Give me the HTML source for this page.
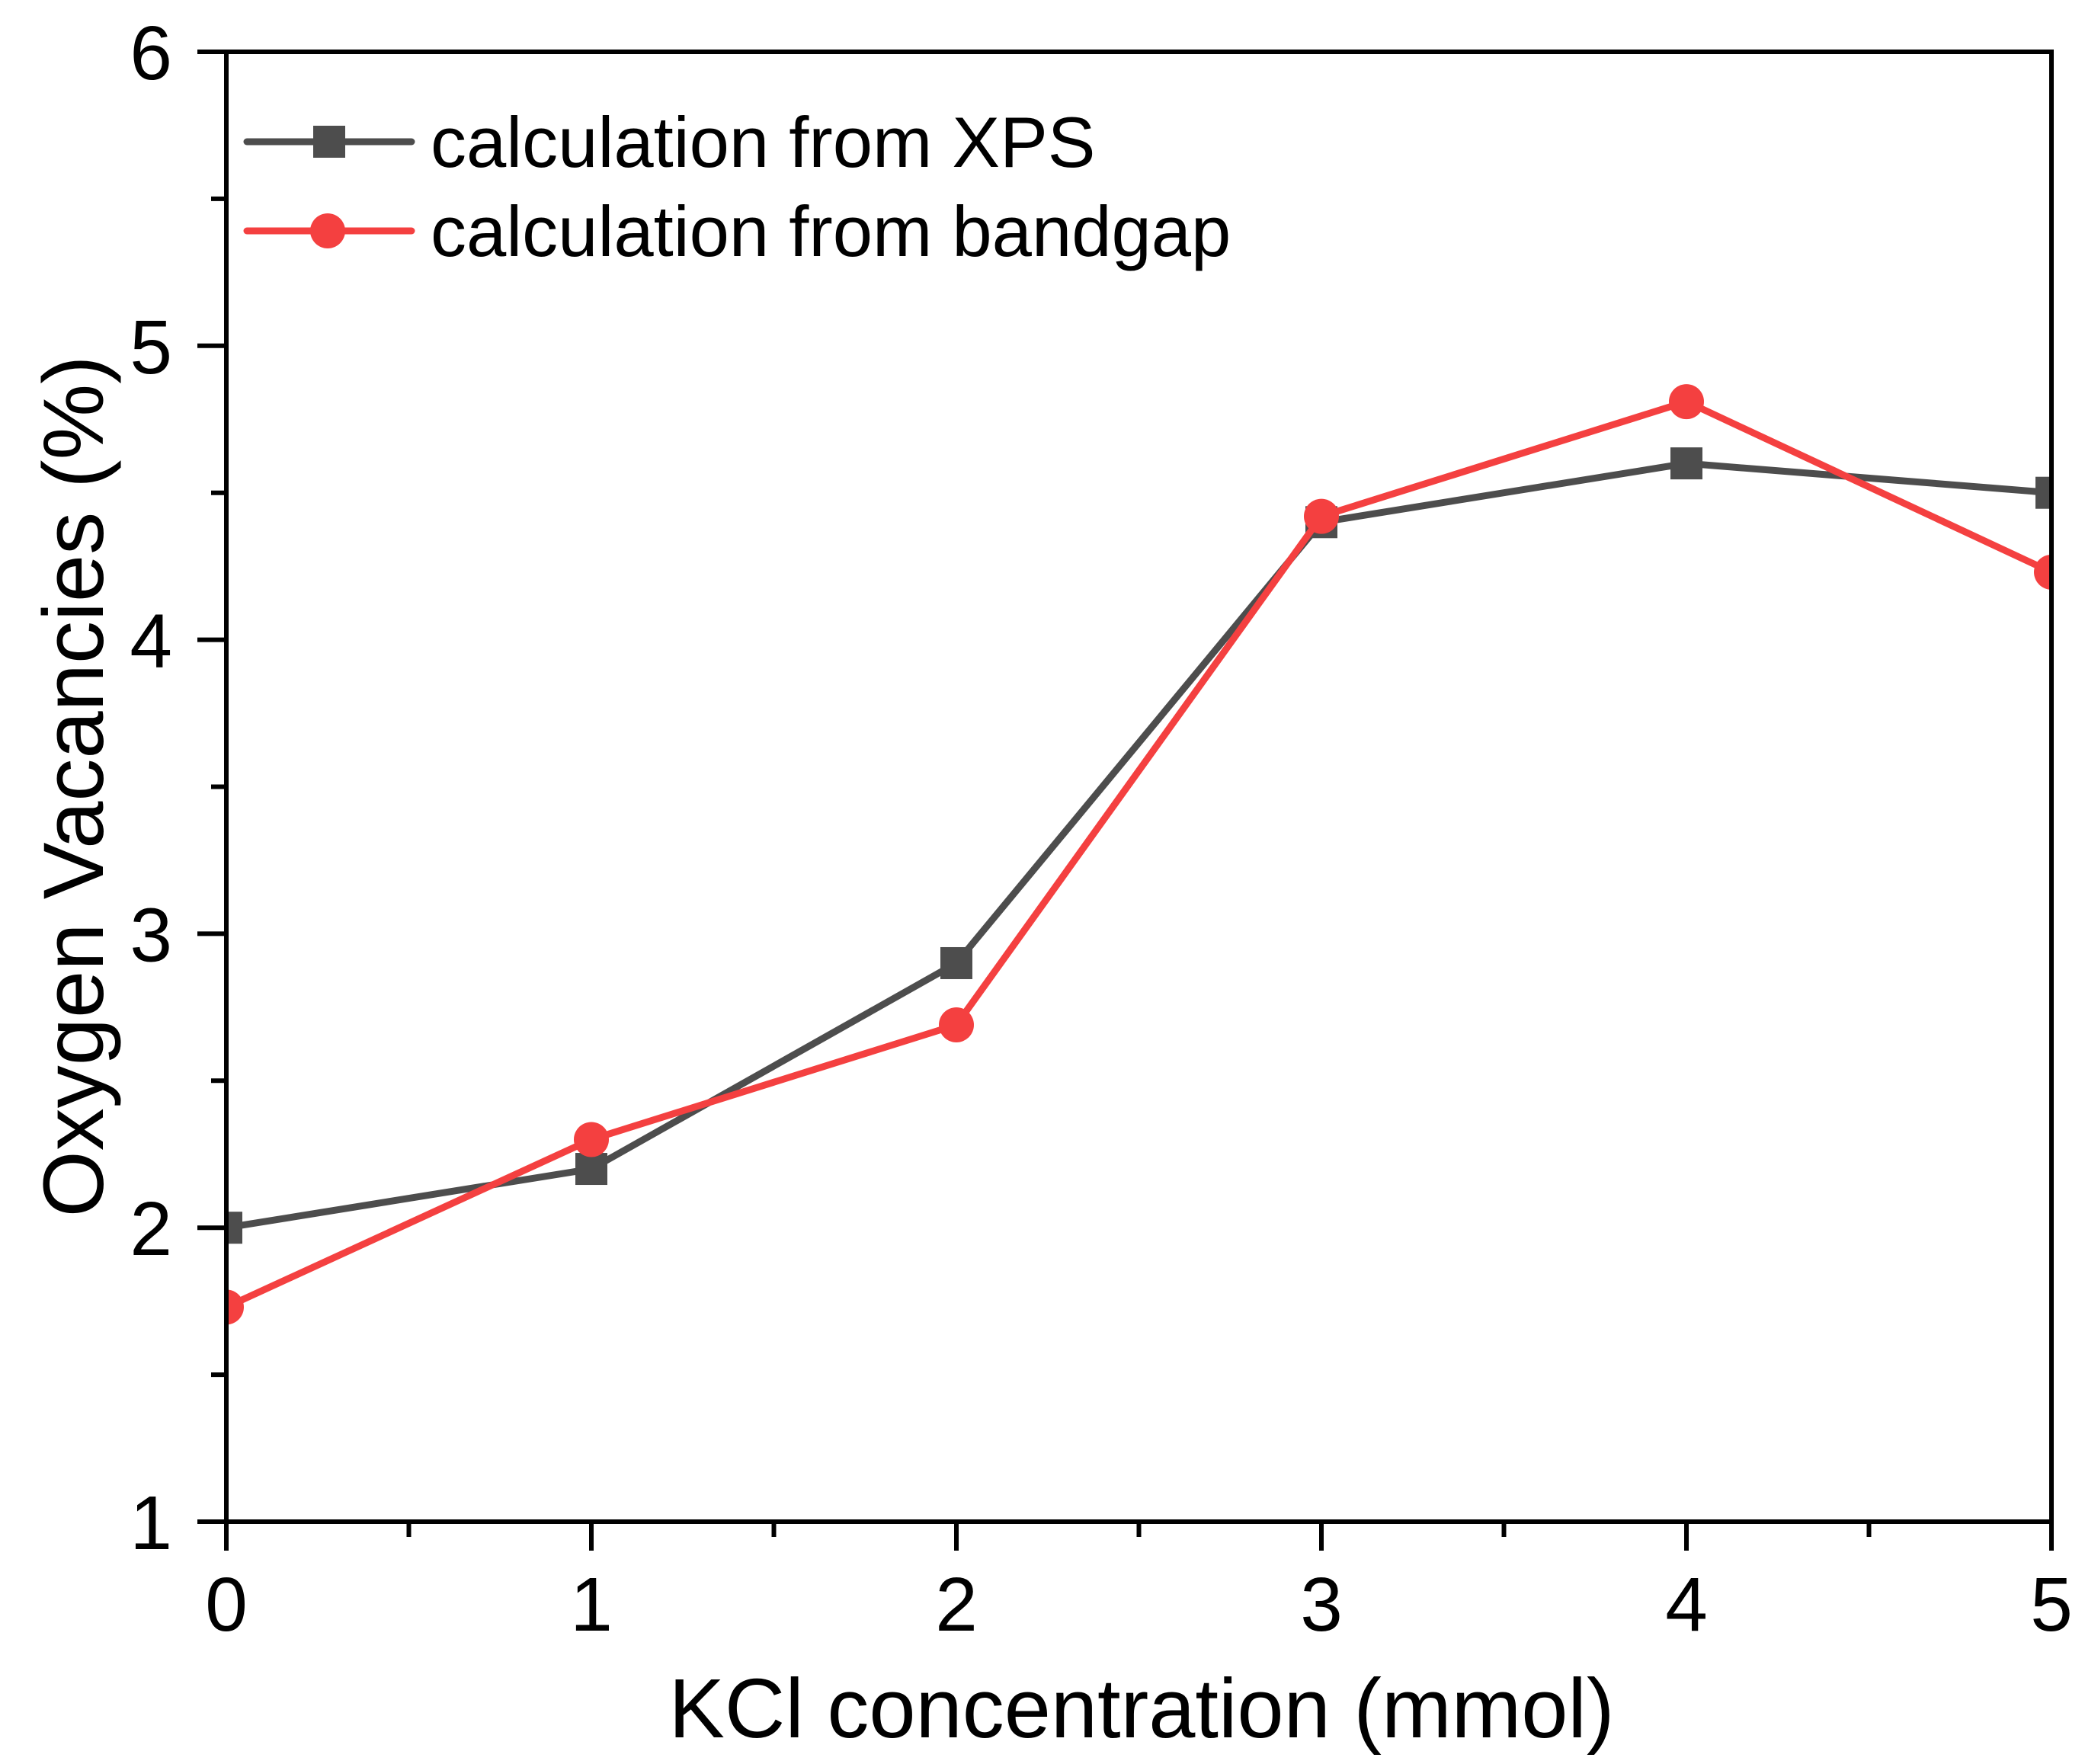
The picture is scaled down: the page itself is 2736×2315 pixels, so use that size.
<!DOCTYPE html>
<html><head><meta charset="utf-8"><style>
html,body{margin:0;padding:0;background:#fff}
svg{display:block}
text{font-family:"Liberation Sans",Arial,sans-serif;fill:#000}
</style></head><body>
<svg id="chart" width="2736" height="2315" viewBox="0 0 2736 2315">
<defs><clipPath id="plotclip"><rect x="297" y="68" width="2395" height="1929"/></clipPath></defs>
<g id="series" clip-path="url(#plotclip)"></g>
<g id="axes"></g>
<g id="legend">
  <line x1="324" y1="186" x2="540" y2="186" stroke="#4d4d4d" stroke-width="9" stroke-linecap="round"/>
  <rect x="411" y="165" width="42" height="42" fill="#4d4d4d"/>
  <text x="565" y="219" font-size="94">calculation from XPS</text>
  <line x1="324" y1="303" x2="540" y2="303" stroke="#f44040" stroke-width="9" stroke-linecap="round"/>
  <circle cx="430" cy="303" r="23" fill="#f44040"/>
  <text x="565" y="336" font-size="94">calculation from bandgap</text>
</g>
<text x="1498" y="2280" font-size="110" text-anchor="middle">KCl concentration (mmol)</text>
<text transform="translate(135,1032) rotate(-90)" font-size="112" text-anchor="middle">Oxygen Vacancies (%)</text>
</svg>
<script>
const categories = [0, 1, 2, 3, 4, 5];
const xpsValues = [2.0, 2.2, 2.9, 4.4, 4.6, 4.5];
const bandgapValues = [1.73, 2.3, 2.69, 4.42, 4.81, 4.23];
const xTickLabels = ["0", "1", "2", "3", "4", "5"];
const yTickLabels = ["1", "2", "3", "4", "5", "6"];

const NS = "http://www.w3.org/2000/svg";
const X0 = 297, X1 = 2692, Y0 = 1997, Y1 = 68;
function xs(v){ return X0 + (v - 0) / 5 * (X1 - X0); }
function ys(v){ return Y0 - (v - 1) / 5 * (Y0 - Y1); }
function mk(tag, attrs, parent){
  const e = document.createElementNS(NS, tag);
  for (const k in attrs) e.setAttribute(k, attrs[k]);
  parent.appendChild(e);
  return e;
}
const axes = document.getElementById("axes");
const series = document.getElementById("series");

const frame = mk("rect", {x: X0, y: Y1, width: X1 - X0, height: Y0 - Y1, fill: "none", stroke: "#000", "stroke-width": 6}, axes);



xTickLabels.forEach((lab, i) => {
  const v = Number(lab);
  const t = mk("line", {x1: xs(v), y1: Y0, x2: xs(v), y2: Y0 + 38, stroke: "#000", "stroke-width": 6}, axes);
  
  
  const tx = mk("text", {x: xs(v), y: 2140, "font-size": 100, "text-anchor": "middle"}, axes);
  tx.textContent = lab;
  
  
  if (i < xTickLabels.length - 1) {
    const m = mk("line", {x1: xs(v + 0.5), y1: Y0, x2: xs(v + 0.5), y2: Y0 + 20, stroke: "#000", "stroke-width": 6}, axes);
    
    
  }
});
yTickLabels.forEach((lab, i) => {
  const v = Number(lab);
  const t = mk("line", {x1: X0 - 38, y1: ys(v), x2: X0, y2: ys(v), stroke: "#000", "stroke-width": 6}, axes);
  
  
  const tx = mk("text", {x: 226, y: ys(v) + 36, "font-size": 100, "text-anchor": "end"}, axes);
  tx.textContent = lab;
  
  
  if (i < yTickLabels.length - 1) {
    const m = mk("line", {x1: X0 - 20, y1: ys(v + 0.5), x2: X0, y2: ys(v + 0.5), stroke: "#000", "stroke-width": 6}, axes);
    
    
  }
});

function drawSeries(vals, color, kind, name){
  const pts = vals.map((v, i) => xs(categories[i]) + "," + ys(v)).join(" ");
  const pl = mk("polyline", {points: pts, fill: "none", stroke: color, "stroke-width": 9, "stroke-linejoin": "round"}, series);
  
  
  vals.forEach((v, i) => {
    let m;
    if (kind === "square") {
      m = mk("rect", {x: xs(categories[i]) - 21, y: ys(v) - 21, width: 42, height: 42, fill: color}, series);
    } else {
      m = mk("circle", {cx: xs(categories[i]), cy: ys(v), r: 23, fill: color}, series);
    }
    
    
  });
}
drawSeries(xpsValues, "#4d4d4d", "square", "xps");
drawSeries(bandgapValues, "#f44040", "circle", "bandgap");
</script>
</body></html>
